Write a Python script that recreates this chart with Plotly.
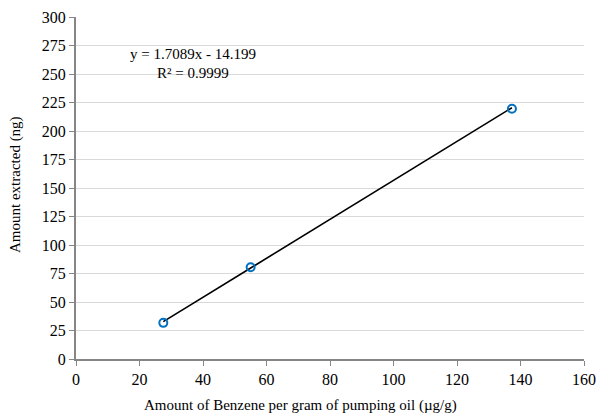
import plotly.graph_objects as go

x_vals = [27.5, 55, 137.3]
y_vals = [31.7, 80.5, 219.5]
slope = 1.7089
intercept = -14.199
eq_text = "y = 1.7089x - 14.199"
r2_text = "R² = 0.9999"
x_title = "Amount of Benzene per gram of pumping oil (µg/g)"
y_title = "Amount extracted (ng)"

x_line = [min(x_vals), max(x_vals)]
y_line = [slope * v + intercept for v in x_line]

font = "Liberation Serif, Times New Roman, serif"

fig = go.Figure()
fig.add_trace(go.Scatter(x=x_line, y=y_line, mode="lines",
                         line=dict(color="black", width=1.6), showlegend=False))
fig.add_trace(go.Scatter(x=x_vals, y=y_vals, mode="markers",
                         marker=dict(symbol="circle-open", size=8, color="#0070C0",
                                     line=dict(width=2, color="#0070C0")),
                         showlegend=False))

fig.add_annotation(x=0.2295, y=0.893, xref="paper", yref="paper", text=eq_text,
                   xanchor="center", yanchor="middle",
                   showarrow=False, font=dict(family=font, size=15, color="black"))
fig.add_annotation(x=0.2295, y=0.837, xref="paper", yref="paper", text=r2_text,
                   xanchor="center", yanchor="middle",
                   showarrow=False, font=dict(family=font, size=15, color="black"))
# axis titles
fig.add_annotation(x=0.5, y=0, xref="paper", yref="paper", text=x_title,
                   xanchor="center", yanchor="middle", xshift=-30, yshift=-46,
                   showarrow=False, font=dict(family=font, size=15, color="black"))
fig.add_annotation(x=0, y=0.5, xref="paper", yref="paper", text=y_title, textangle=-90,
                   xanchor="center", yanchor="middle", xshift=-61, yshift=3,
                   showarrow=False, font=dict(family=font, size=15, color="black"))

fig.update_layout(
    width=599, height=416,
    margin=dict(l=76, r=15, t=17, b=57),
    paper_bgcolor="white", plot_bgcolor="white",
    font=dict(family=font, size=16, color="black"),
    xaxis=dict(range=[0, 160], dtick=20, showgrid=False, zeroline=False, automargin=False,
               showline=True, linecolor="#868686", linewidth=2,
               ticks="outside", ticklen=5, tickcolor="#868686", tickwidth=1),
    yaxis=dict(range=[0, 300], dtick=25, showgrid=True, gridcolor="#d9d9d9", gridwidth=1,
               zeroline=False, showline=True, linecolor="#868686", linewidth=2, automargin=False,
               ticks="outside", ticklen=5, tickcolor="#868686", tickwidth=1),
)

fig.write_html("out.html")
